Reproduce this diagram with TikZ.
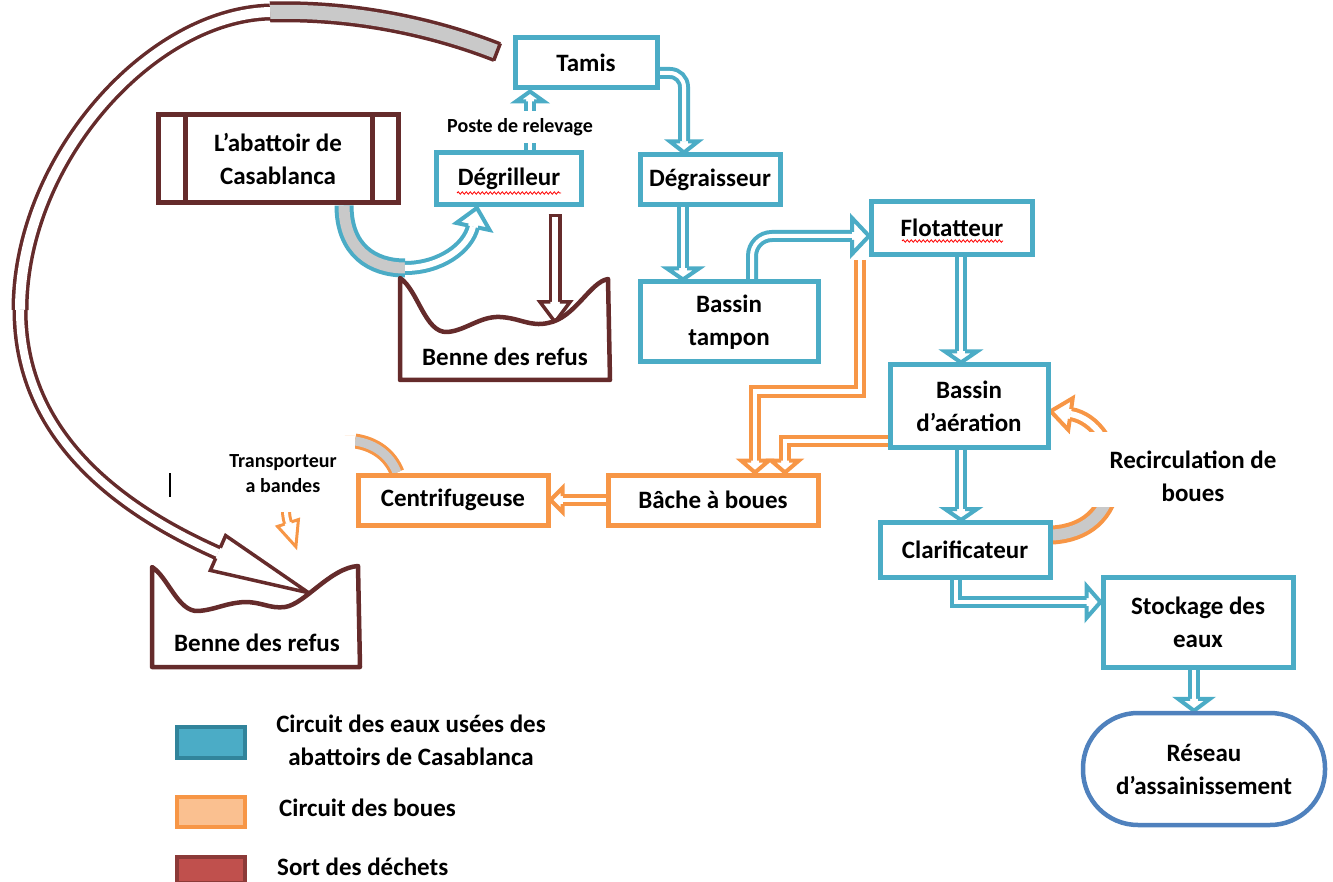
\documentclass[tikz,border=0pt]{standalone}
\usepackage{fontspec}
\setmainfont{Carlito}
\usetikzlibrary{calc,decorations.pathmorphing}
\pgfdeclarelayer{bg}
\pgfsetlayers{bg,main}
\definecolor{myblue}{HTML}{4BACC6}
\definecolor{myorange}{HTML}{F79646}
\definecolor{mybrown}{HTML}{652B2B}
\definecolor{resblue}{HTML}{4F81BD}
\definecolor{mygray}{HTML}{C9C9C9}
\definecolor{legblue}{HTML}{31849B}
\definecolor{legorangefill}{HTML}{FAC090}
\definecolor{legred}{HTML}{C0504D}
\definecolor{legredline}{HTML}{8C3A38}
\tikzset{
  txt/.style={font=\fontsize{25}{33}\selectfont\bfseries, align=center, inner sep=0pt},
  smalltxt/.style={font=\fontsize{20}{25}\selectfont\bfseries, align=center, inner sep=0pt},
  box/.style={txt, draw=#1, line width=5, fill=white},
  shaft/.style={line width=4, double=white, double distance=4},
  bsh/.style={shaft, draw=myblue},
  osh/.style={shaft, draw=myorange},
  rsh/.style={line width=3.5, double=white, double distance=6, draw=mybrown},
  headb/.style={color=myblue, line width=4},
  heado/.style={color=myorange, line width=4},
  headr/.style={color=mybrown, line width=3.5},
  squig/.style={red, line width=0.8, decorate, decoration={snake, amplitude=1.2pt, segment length=4pt}},
  legbox/.style={line width=4, minimum width=68, inner sep=0pt},
  pics/ahead/.style n args={3}{code={\filldraw[fill=white, line join=miter] (0,-#3) -- (0,-#2) -- (#1,0) -- (0,#2) -- (0,#3);}}
}
\begin{document}
\begin{tikzpicture}[x=1pt,y=-1pt]
\useasboundingbox (0,0) rectangle (1333,882);

% masks hiding parts of curved arrows behind their labels
\fill[white] (215,436) rectangle (355,512);
\fill[white] (1075,432) rectangle (1290,507);

% ---------- nodes ----------
\node[box=myblue, minimum width=142, minimum height=50] (tamis) at (586,63) {Tamis};
\node[box=mybrown, minimum width=240, minimum height=88] (abat) at (278,159) {L’abattoir de\\Casablanca};
\draw[mybrown, line width=5] ($(abat.north west)+(30,0)$) -- ($(abat.south west)+(30,0)$);
\draw[mybrown, line width=5] ($(abat.north east)+(-28,0)$) -- ($(abat.south east)+(-28,0)$);
\node[box=myblue, minimum width=145, minimum height=52] (degr) at (509,179) {Dégrilleur};
\node[box=myblue, minimum width=140, minimum height=50] (degs) at (710,180) {Dégraisseur};
\node[box=myblue, minimum width=161, minimum height=53] (flot) at (952,228) {Flotatteur};
\node[box=myblue, minimum width=178, minimum height=80] (btamp) at (729,322) {Bassin\\tampon};
\node[box=myblue, minimum width=158, minimum height=82] (baer) at (969,406) {Bassin\\d’aération};
\node[box=myblue, minimum width=170, minimum height=55] (clar) at (965,550) {Clarificateur};
\node[box=myblue, minimum width=190, minimum height=90] (stock) at (1198,622) {Stockage des\\eaux};
\node[box=resblue, line width=4.5, minimum width=242, minimum height=112, rounded corners=55] (reseau) at (1204,769) {Réseau\\d’assainissement};
\node[box=myorange, minimum width=210, minimum height=50] (bache) at (713,500) {Bâche à boues};
\node[box=myorange, minimum width=190, minimum height=50] (centr) at (453,500) {Centrifugeuse};

% bennes des refus
\draw[mybrown, line width=4.5, fill=white, line join=round] (400,278) .. controls (418,290) and (425,333) .. (447,332)
  .. controls (465,331) and (480,316) .. (500,317) .. controls (520,318) and (530,327) .. (548,323)
  .. controls (575,318) and (590,282) .. (608,279) -- (610,380) -- (400,380) -- cycle;
\node[txt] (b1) at (505,357) {Benne des refus};
\coordinate (b1dip) at (555,322);
\draw[mybrown, line width=4.5, fill=white, line join=round] (152,567) .. controls (168,577) and (178,612) .. (198,611)
  .. controls (215,610) and (225,603) .. (245,602) .. controls (262,602) and (270,609) .. (285,607)
  .. controls (305,604) and (330,568) .. (358,566) -- (360,667) -- (152,667) -- cycle;
\node[txt] (b2) at (257,643) {Benne des refus};
\coordinate (b2tip) at (309,593);

% labels
\node[smalltxt, fill=white, inner xsep=2, minimum height=32] (poste) at (520,127) {Poste de relevage};
\node[smalltxt] (transp) at (283,474) {Transporteur\\a bandes};
\node[txt] (recirc) at (1193,476) {Recirculation de\\boues};

% spell-check squiggles
\draw[squig] ($(degr.center)+(-52,14)$) -- ($(degr.center)+(52,14)$);
\draw[squig] ($(flot.center)+(-50,13)$) -- ($(flot.center)+(51,13)$);

% cursor mark
\draw[black, line width=2] (170,473) -- (170,497);

% legend
\node[legbox, draw=legblue, fill=myblue, minimum height=31] (leg1) at (211,742.5) {};
\node[txt] (leg1t) at (411,740) {Circuit des eaux usées des\\abattoirs de Casablanca};
\node[legbox, draw=myorange, fill=legorangefill, minimum height=30] (leg2) at (211,812) {};
\node[txt, anchor=west] (leg2t) at (279,808) {Circuit des boues};
\node[legbox, draw=legredline, fill=legred, minimum height=26] (leg3) at (211,870) {};
\node[txt, anchor=west] (leg3t) at (277,867) {Sort des déchets};

% ---------- connectors ----------
\begin{pgfonlayer}{bg}
% big brown arc to the lower benne
\coordinate (arcs) at (497,52);
\coordinate (arch) at ($(b2tip)+(-91,-40)$);
\draw[mybrown, line width=3.5, double=mygray, double distance=14] (arcs) .. controls (420,22) and (340,10) .. (270,12);
\draw[mybrown, line width=3.5, double=white, double distance=10] (270,12) .. controls (150,15) and (20,160) .. (20,310);
\draw[mybrown, line width=3.5, double=white, double distance=8] (20,310) .. controls (20,430) and (110,505) .. (arch);
\draw[mybrown, line width=3.5] ($(arcs)+(3.3,-8.6)$) -- ($(arcs)+(-3.3,8.6)$);
\pic[headr, rotate=-23.7] at (arch) {ahead={99}{19}{5.75}};

% abattoir -> degrilleur
\coordinate (ah) at ($(degr.south)+(-36,19)$);
\draw[myblue, line width=4, double=mygray, double distance=11] ($(abat.south)+(66,0)$) .. controls (344,250) and (372,268) .. (405,268);
\draw[myblue, line width=4, double=white, double distance=6] (405,268) .. controls (440,268) and (468,248) .. (ah);
\pic[headb, rotate=78] at (ah) {ahead={19}{17}{5}};

% degrilleur -> benne 1
\coordinate (r1t) at ($(degr.south)+(46,8)$);
\coordinate (r1) at ($(b1dip)+(0,-20)$);
\draw[rsh] (r1t) -- (r1);
\draw[mybrown, line width=3.5] ($(r1t)+(-6.5,0)$) -- ($(r1t)+(6.5,0)$);
\pic[headr, rotate=-90] at (r1) {ahead={20}{15}{4.75}};

% degrilleur -> tamis
\coordinate (h1) at ($(tamis.south)+(-56,11)$);
\draw[bsh] ($(degr.north)+(21,0)$) -- (h1);
\pic[headb, rotate=90] at (h1) {ahead={10}{14}{4}};

% tamis -> degraisseur
\coordinate (h2) at ($(degs.north)+(-26,-11)$);
\draw[bsh, rounded corners=14] ($(tamis.east)+(0,10)$) -| (h2);
\pic[headb, rotate=-90] at (h2) {ahead={11}{14}{4}};

% degraisseur -> bassin tampon
\coordinate (h3) at ($(btamp.north)+(-46,-11)$);
\draw[bsh] ($(degs.south)+(-27,0)$) -- (h3);
\pic[headb, rotate=-90] at (h3) {ahead={11}{16}{4}};

% bassin tampon -> flotatteur
\coordinate (h4) at ($(flot.west)+(-17,8)$);
\draw[bsh, rounded corners=20] ($(btamp.north)+(23,0)$) |- (h4);
\pic[headb] at (h4) {ahead={17}{18}{4}};

% flotatteur -> bassin d'aeration
\coordinate (h5) at ($(baer.north)+(-8,-11)$);
\draw[bsh] ($(flot.south)+(9,0)$) -- (h5);
\pic[headb, rotate=-90] at (h5) {ahead={11}{16}{4}};

% bassin d'aeration -> clarificateur
\coordinate (h6) at ($(clar.north)+(-4,-11)$);
\draw[bsh] ($(baer.south)+(-8,0)$) -- (h6);
\pic[headb, rotate=-90] at (h6) {ahead={11}{16}{4}};

% clarificateur -> stockage
\coordinate (h7) at ($(stock.west)+(-14,-20)$);
\draw[bsh] ($(clar.south)+(-9,0)$) |- (h7);
\pic[headb] at (h7) {ahead={14}{16}{4}};

% stockage -> reseau
\coordinate (h8) at ($(reseau.north)+(-10,-12)$);
\draw[bsh] ($(stock.south)+(-4,0)$) -- (h8);
\pic[headb, rotate=-90] at (h8) {ahead={12}{16}{4}};

% flotatteur -> bache a boues
\coordinate (o1) at ($(bache.north)+(42,-12)$);
\draw[osh] ($(flot.south west)+(-9,3)$) |- ($(bache.north)+(42,-81)$) -- (o1);
\pic[heado, rotate=-90] at (o1) {ahead={12}{14}{4}};

% bassin d'aeration -> bache a boues
\coordinate (o2) at ($(bache.north)+(72,-12)$);
\draw[osh] ($(baer.west)+(0,35)$) -| (o2);
\pic[heado, rotate=-90] at (o2) {ahead={12}{14}{4}};

% bache -> centrifugeuse
\coordinate (o3) at ($(centr.east)+(12,0)$);
\draw[osh] (bache.west) -- (o3);
\pic[heado, rotate=180] at (o3) {ahead={12}{12}{4}};

% centrifugeuse -> benne 2 (transporteur a bandes)
\coordinate (ch) at ($(b2tip)+(-21,-70)$);
\draw[myorange, line width=3, double=mygray, double distance=9] ($(centr.north)+(-56,0)$) .. controls (390,455) and (375,444) .. (355,441);
\draw[myorange, line width=3, double=white, double distance=4] (355,441) .. controls (305,437) and (278,493) .. (ch);
\pic[color=myorange, line width=3, rotate=-71.6] at (ch) {ahead={25}{11}{3.5}};

% recirculation des boues
\coordinate (rh) at ($(baer.east)+(20,8)$);
\draw[myorange, line width=4, double=mygray, double distance=11] ($(clar.east)+(0,-15)$) .. controls (1085,533) and (1108,515) .. (1112,480);
\draw[myorange, line width=4, double=white, double distance=6] (1112,480) .. controls (1116,447) and (1095,418) .. (rh);
\pic[heado, rotate=172] at (rh) {ahead={20}{16}{5}};
\end{pgfonlayer}
\end{tikzpicture}
\end{document}
